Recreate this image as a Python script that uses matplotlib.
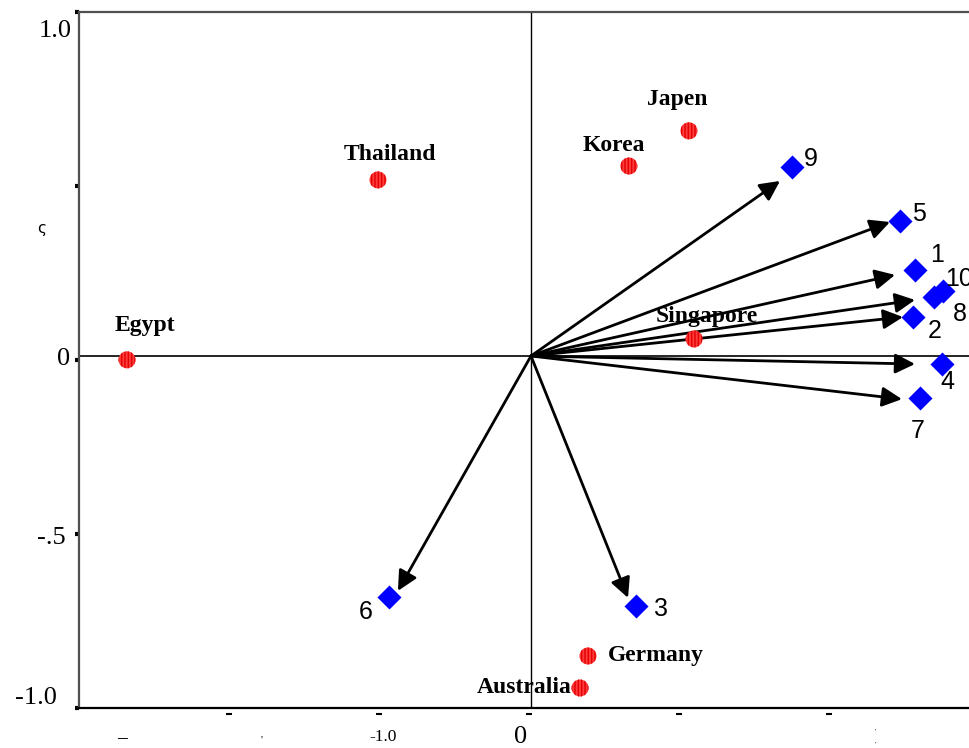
import matplotlib
matplotlib.use("Agg")
import matplotlib.pyplot as plt
import matplotlib.transforms as mtransforms

# ---- data (biplot coordinates) ----
countries = ["Egypt", "Thailand", "Korea", "Japen", "Singapore", "Germany", "Australia"]
country_x = [-2.693, -1.020, 0.653, 1.053, 1.087, 0.380, 0.327]
country_y = [-0.011, 0.506, 0.546, 0.647, 0.049, -0.862, -0.954]

variables = ["9", "5", "1", "10", "8", "2", "4", "7", "6", "3"]
var_x = [1.740, 2.460, 2.560, 2.747, 2.687, 2.547, 2.740, 2.593, -0.947, 0.700]
var_y = [0.543, 0.388, 0.247, 0.187, 0.170, 0.112, -0.023, -0.121, -0.693, -0.718]

# arrow tips (loadings drawn from origin)
arrow_vars = ["9", "5", "1", "10/8", "2", "4", "7", "6", "3"]
arrow_x = [1.660, 2.393, 2.427, 2.560, 2.480, 2.560, 2.473, -0.887, 0.647]
arrow_y = [0.503, 0.385, 0.233, 0.161, 0.112, -0.023, -0.124, -0.675, -0.695]

# label offsets in pixels (layout)
country_off = {"Egypt": (18, 34, "center"), "Thailand": (12, 25, "center"),
               "Korea": (-15, 20, "center"), "Japen": (-12, 31, "center"),
               "Singapore": (13, 22, "center"), "Germany": (20, 0, "left"),
               "Australia": (-8, 0, "right")}
var_off = {"9": (19, 8), "5": (19, 7), "1": (22, 15), "10": (16, 12), "8": (26, -17),
           "2": (22, -14), "4": (5, -18), "7": (-2, -33), "6": (-23, -15), "3": (25, -3)}

W, H = 969, 748
fig = plt.figure(figsize=(W / 100, H / 100), dpi=100)
ax = fig.add_axes([79 / W, (H - 708) / H, (W - 79) / W, (708 - 12) / H])

ax.set_xlim(-3.013, 2.92)
ax.set_ylim(-1.0115, 0.9885)

for side in ["left", "top"]:
    ax.spines[side].set_color("#505050")
    ax.spines[side].set_linewidth(1.6)
ax.spines["bottom"].set_color("black")
ax.spines["bottom"].set_linewidth(1.6)
ax.spines["right"].set_visible(False)

ax.axvline(0, color="black", lw=1.0, zorder=1)
ax.axhline(0, color="black", lw=1.2, zorder=1)

# ticks
ax.set_yticks([-1.0115, -0.5115, -0.0115, 0.4885, 0.9885])
ax.set_yticklabels([])
ax.tick_params(axis="y", direction="out", length=3, width=3, color="black")
ax.set_xticks([])

# bottom dashes as pseudo ticks
blend = mtransforms.blended_transform_factory(ax.transData, ax.transAxes)
for xv in [-2, -1, 0, 1, 2]:
    ax.plot([xv - 0.015], [-0.008], marker="_", ms=4, mew=1.5, color="black",
            transform=blend, clip_on=False)

serif = "Liberation Serif"
sans = "Liberation Sans"

# y tick labels
ax.text(72, H - 31, "1.0", transform=None, fontsize=19, family=serif, ha="right", va="center")
ax.text(70, H - 359, "0", transform=None, fontsize=19, family=serif, ha="right", va="center")
ax.text(66, H - 538, "-.5", transform=None, fontsize=19, family=serif, ha="right", va="center")
ax.text(57, H - 698, "-1.0", transform=None, fontsize=19, family=serif, ha="right", va="center")
# x tick labels (garbled in original)
ax.text(122, H - 739, "\u2013", transform=None, fontsize=14, family=serif, weight="bold",
        ha="center", va="center")
ax.text(262, H - 740, "'", transform=None, fontsize=8, family=serif, ha="center", va="center")
ax.text(383, H - 737, "-1.0", transform=None, fontsize=12.5, family=serif, ha="center", va="center")
ax.text(521, H - 737, "0", transform=None, fontsize=19, family=serif, ha="center", va="center")
ax.text(875, H - 731, "'", transform=None, fontsize=5, family=serif, ha="center", va="center")
ax.text(875, H - 744, "'", transform=None, fontsize=5, family=serif, ha="center", va="center")
ax.text(42, H - 228, "\u03c2", transform=None, fontsize=11, family="DejaVu Sans",
        ha="center", va="center")

# arrows
for ex, ey in zip(arrow_x, arrow_y):
    ax.annotate("", xy=(ex, ey), xytext=(0, 0),
                arrowprops=dict(arrowstyle="-|>", color="black", lw=2.0,
                                mutation_scale=30, shrinkA=0, shrinkB=0),
                zorder=3)

# country points
ax.scatter(country_x, country_y, s=150, marker="o", facecolor="#ff3b3b",
           edgecolor="#e00000", hatch="|||||", linewidth=0, zorder=4)
for name, xv, yv in zip(countries, country_x, country_y):
    dx, dy, ha = country_off[name]
    ax.annotate(name, (xv, yv), xytext=(dx, dy), textcoords="offset pixels",
                ha=ha, va="center", fontsize=17, family=serif, weight="bold", zorder=5)

# variable points
ax.scatter(var_x, var_y, s=150, marker="D", color="#0000ff", linewidth=0, zorder=4)
for name, xv, yv in zip(variables, var_x, var_y):
    dx, dy = var_off[name]
    ax.annotate(name, (xv, yv), xytext=(dx, dy), textcoords="offset pixels",
                ha="center", va="center", fontsize=18, family=sans, zorder=5,
                annotation_clip=False)

fig.savefig("out.png", dpi=100)
